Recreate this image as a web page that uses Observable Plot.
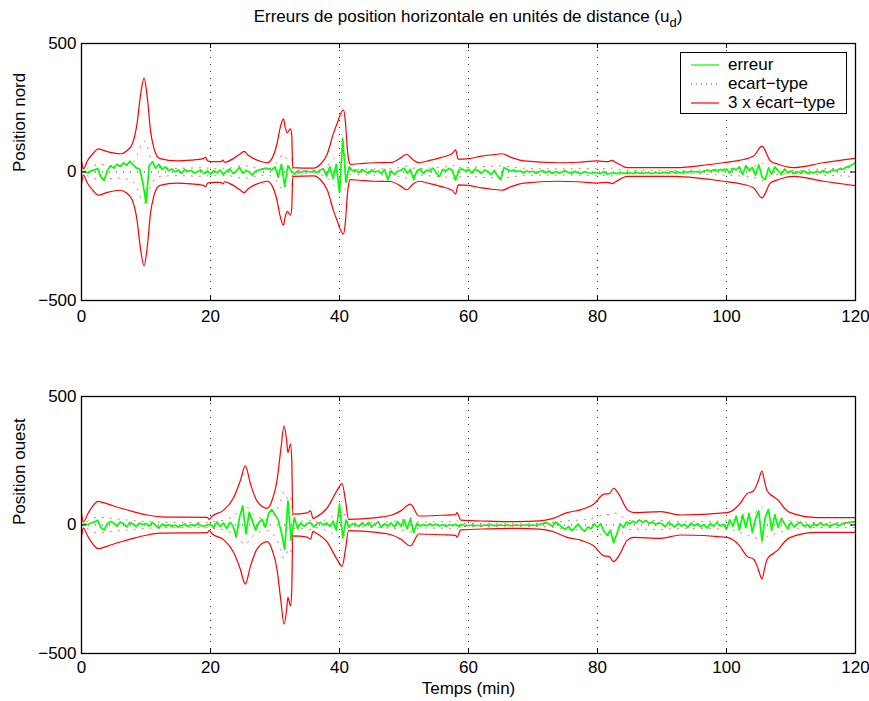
<!DOCTYPE html>
<html><head><meta charset="utf-8">
<script src="https://cdn.jsdelivr.net/npm/d3@7"></script>
<script src="https://cdn.jsdelivr.net/npm/@observablehq/plot@0.6"></script>
<style>
html,body{margin:0;padding:0;background:#fff;}
#wrap{position:relative;width:869px;height:701px;overflow:hidden;font-family:"Liberation Sans",Arial,Helvetica,sans-serif;color:#000;}
#title{position:absolute;z-index:3;left:81px;width:774px;top:7px;text-align:center;font-size:17px;line-height:20px;white-space:nowrap;}
#title sub{font-size:13px;vertical-align:-5px;line-height:0;}
.panel{position:absolute;left:0;z-index:1;}
#legend{position:absolute;z-index:2;left:680px;top:52px;width:165px;height:60px;border:1px solid #000;background:#fff;font-size:17px;}
#legend .row{position:absolute;left:0;height:19px;line-height:19px;width:165px;}
#legend svg{position:absolute;left:9px;top:0;}
#legend span{position:absolute;left:47px;top:0;white-space:nowrap;}
</style></head>
<body><div id="wrap">
<div id="title">Erreurs de position horizontale en unités de distance (u<sub>d</sub>)</div>
</div>
<script>
// ---- data ----
const xTicks = [0, 20, 40, 60, 80, 100, 120];
const yTicks = [-500, 0, 500];
const tStep = 0.5; // sample spacing (min) of the error series below
const panelLabels = ["Position nord", "Position ouest"];
const xLabel = "Temps (min)";
const legendLabels = ["erreur", "ecart\u2212type", "3 x \u00e9cart\u2212type"];

// erreur, position nord (t = 0, 0.5, ... 120)
const errNord = [
  0, 3, -4, 5, 8, 14, -20, -32, 6, 24, 15, 30, 22, 36, 26, 42, 28, 16, 12, -40,
  -120, 25, 40, 15, 30, 10, 20, 5, 12, 0, 8, -5, 10, 3, 6, -4, 2, 8, -6, 4,
  -8, 5, -3, 8, -10, 4, 12, -6, 3, 18, -5, 6, 0, -12, 4, 8, 10, 15, 12, 8,
  20, -20, 30, -55, 25, 5, -8, 3, -2, 4, 2, 0, 5, -3, 8, 12, -15, 20, -25, 30,
  -80, 130, -40, 20, 5, 8, -3, 10, 2, -5, 8, 0, 4, -6, 10, -30, 5, -10, 3, 6,
  15, -5, 10, -30, 5, 12, -6, 8, 4, 15, -4, -18, 10, 5, 14, 6, -32, 8, 12, 4,
  10, -4, 12, 5, -6, 8, 2, -10, 6, -15, -30, 18, 10, 4, 8, 2, 5, -3, 4, 0,
  3, -5, 2, 6, -3, 4, -6, 2, -4, 0, 5, -2, -5, 3, -4, -6, 2, -3, -5, -2,
  -4, -6, 2, -8, -5, -3, -7, -2, -5, -4, -3, -6, -1, -4, -5, -2, -3, -6, -2, -4,
  -3, -1, -4, 2, -2, 0, -3, 1, -1, 3, 0, 2, -2, 4, 6, 3, 8, 5, 10, 6,
  12, -5, 15, 8, 20, -10, 25, 5, 18, -12, 28, -20, -30, 15, -8, 20, 5, -10, 12, -4,
  4, -6, 2, -3, 5, -5, 0, -4, 3, -2, 6, -3, 2, 8, 5, 12, 10, 18, 22, 28,
  36
];
// erreur, position ouest
const errOuest = [
  0, 4, 2, 8, 12, 18, -10, -20, 5, 14, 8, -5, 12, 6, -8, 10, 4, -6, 8, 2,
  6, -4, 10, -2, -12, 4, -5, 2, -6, 0, -8, -3, 4, -6, 2, -4, 6, -2, -5, 0,
  4, -10, 12, -6, 8, -14, 10, -4, -48, 30, 74, -35, 50, 15, -20, 10, 22, -8, 45, 60,
  40, 20, -30, -95, 94, -60, 30, -15, 8, -5, 6, 10, -8, 4, 10, 0, 8, -6, 15, -20,
  81, -50, 20, -8, 6, 2, -5, 8, -3, 10, -6, 4, 12, -10, 5, -4, 8, -8, 14, -5,
  20, -15, 25, -30, 6, -4, 2, -3, 5, -2, 3, -4, 2, -5, 1, -2, 3, -6, 2, -3,
  -2, 0, -3, -1, -4, 0, -2, 1, -3, -1, 0, -2, 1, -3, -1, 0, -2, -1, 1, -2,
  0, -2, 2, 6, 10, 4, -5, 12, 3, -8, -18, -5, -22, -10, 4, -14, -25, -8, -15, 5,
  -10, 5, -25, -40, -20, -69, -35, 5, -10, 12, 4, 15, 8, 20, 10, 18, 6, 12, 3, 8,
  5, -6, 10, 2, -8, 6, -4, 3, -10, 8, -3, 5, -7, 2, -12, 6, -5, 10, -4, 3,
  -15, 20, -5, 35, -20, 40, -10, 45, -30, 25, 55, -62, 30, 61, -20, 40, -10, 25, 5, -15,
  10, -8, 4, 12, -5, 2, -10, 6, -3, 8, -2, 4, -6, 2, 5, -3, 6, 8, 10, 12,
  15
];
// 3 x ecart-type, position nord: [t (min), value]
const env3Nord = [
  [0,45],[0.3,12],[0.9,43],[1.9,75],[2.6,90],[4,79],[6,71],[7,82],[7.85,108],[8.6,186],[9.1,290],[9.7,365],
  [10.2,290],[10.7,160],[11.2,95],[11.7,62],[12.2,52],[14.8,43],[17,46],[18.9,52],[19.2,58],[19.6,42],
  [20.5,40],[21.6,40],[21.9,46],[22.2,38],[23.5,52],[24.5,68],[25.2,80],[25.8,66],[26.7,52],[28,40],[28.8,36],
  [29.6,56],[30.3,109],[30.8,172],[31.3,207],[31.6,172],[31.9,153],[32.4,168],[32.6,140],[32.75,17],
  [36,15],[37.05,30],[38.1,70],[39.1,153],[39.6,187],[40.6,242],[40.9,199],[41.2,95],[41.4,50],[41.7,30],
  [43,32],[45.3,36],[47.9,37],[49.5,55],[50.4,69],[51.3,50],[52.3,36],[54,45],[55.7,56],[57.5,72],[58,86],[58.4,50],
  [60,52],[62,62],[64,68],[65.2,71],[66.5,58],[68.6,43],[73.7,36],[77,38],[80,43],[81.5,40],[82.3,45],[82.8,38],
  [84.6,17],[92,17],[96,25],[99.5,36],[102,45],[104.2,62],[105.5,101],[106.8,43],[108,30],[110.4,17],[115,36],[120,53]
];
// 3 x ecart-type, position ouest
const env3Ouest = [
  [0,45],[0.3,12],[1,45],[2.6,92],[4,82],[6,66],[8,52],[10,40],[12.2,32],[19.5,30],[19.8,22],[20.3,35],
  [22,57],[23.6,107],[24.6,170],[25.4,230],[26.2,160],[27.2,94],[28.8,65],[29.6,100],[30.3,171],[30.9,293],
  [31.4,386],[31.8,330],[32,282],[32.4,315],[32.6,250],[32.75,42],[35,47],[35.5,55],[35.9,25],[36.3,30],
  [38.1,67],[39.6,133],[40.4,161],[40.9,100],[41.4,22],[45.8,29],[48,38],[49.5,55],[51,81],[52.3,35],
  [56,38],[58,40],[58.2,48],[58.8,19],[63,15],[67.5,13],[71,16],[73,25],[75.3,48],[77.5,60],[79.4,81],
  [81,120],[81.8,122],[82.5,143],[83.3,120],[84.6,60],[85.6,48],[89.8,52],[92.9,39],[100.1,48],[102,80],
  [103.2,122],[104.2,133],[104.9,170],[105.5,210],[105.9,170],[106.3,133],[107.3,110],[108.1,94],[109,65],
  [109.9,48],[114,29],[120,29]
];

// ---- drawing ----
const FONT = "'Liberation Sans', Arial, Helvetica, sans-serif";
const GREEN = "#00ff00", RED = "#ff0000";

function panel(err, env, ylabel, o) {
  const errData = err.map((v, i) => ({t: i * tStep, v}));
  const envData = env.map(([t, v]) => ({t, up: v, lo: -v, su: v / 3, sl: -v / 3}));
  const innerH = 257, innerW = 774;
  const marks = [
    Plot.ruleX(xTicks.slice(1, -1), {stroke: "#333", strokeDasharray: "1,6", strokeWidth: 1}),
    Plot.ruleY([0], {stroke: "#333", strokeDasharray: "1,6", strokeWidth: 1}),
    Plot.line(errData, {x: "t", y: "v", stroke: GREEN, strokeWidth: 1.7, clip: true}),
    Plot.line(envData, {x: "t", y: "su", stroke: "#ff5050", strokeDasharray: "1,7", strokeWidth: 1, curve: "monotone-x", clip: true}),
    Plot.line(envData, {x: "t", y: "sl", stroke: "#ff5050", strokeDasharray: "1,7", strokeWidth: 1, curve: "monotone-x", clip: true}),
    Plot.line(envData, {x: "t", y: "up", stroke: RED, strokeWidth: 1.2, curve: "monotone-x", clip: true}),
    Plot.line(envData, {x: "t", y: "lo", stroke: RED, strokeWidth: 1.2, curve: "monotone-x", clip: true}),
    Plot.tickX(xTicks, {x: d => d, insetTop: innerH - 5, stroke: "#000"}),
    Plot.tickX(xTicks, {x: d => d, insetBottom: innerH - 5, stroke: "#000"}),
    Plot.tickY(yTicks, {y: d => d, insetRight: innerW - 5, stroke: "#000"}),
    Plot.tickY(yTicks, {y: d => d, insetLeft: innerW - 5, stroke: "#000"}),
    Plot.frame({stroke: "#000", strokeWidth: 1.3}),
    Plot.axisX(xTicks, {tickSize: 0, tickPadding: o.tickPad, label: null, fontSize: 17}),
    Plot.axisY(yTicks, {tickSize: 0, tickPadding: 5, label: null, fontSize: 17}),
    Plot.text([ylabel], {frameAnchor: "left", rotate: -90, dx: -62, fontSize: 17})
  ];
  if (o.xlabel) marks.push(Plot.text([o.xlabel], {frameAnchor: "bottom", dy: 40, fontSize: 17}));
  return Plot.plot({
    width: 869, height: o.height,
    marginLeft: 81, marginRight: 14, marginTop: o.mt, marginBottom: o.mb,
    x: {domain: [0, 120]},
    y: {domain: [-500, 500]},
    style: {fontFamily: FONT, fontSize: "17px", background: "transparent", color: "#000", overflow: "visible"},
    marks
  });
}

const wrap = document.getElementById("wrap");
const p1 = panel(errNord, env3Nord, panelLabels[0], {height: 340, mt: 43, mb: 40, tickPad: 9});
p1.classList.add("panel"); p1.style.top = "0px";
wrap.appendChild(p1);
const p2 = panel(errOuest, env3Ouest, panelLabels[1], {height: 351, mt: 46, mb: 48, tickPad: 7, xlabel: xLabel});
p2.classList.add("panel"); p2.style.top = "350px";
wrap.appendChild(p2);

// legend
const leg = document.createElement("div");
leg.id = "legend";
const styles = [
  {stroke: GREEN, dash: null},
  {stroke: RED, dash: "1,4"},
  {stroke: RED, dash: null}
];
legendLabels.forEach((lab, i) => {
  const row = document.createElement("div");
  row.className = "row";
  row.style.top = (2 + i * 19) + "px";
  const s = styles[i];
  row.innerHTML = `<svg width="30" height="19"><line x1="1" x2="29" y1="10" y2="10" stroke="${s.stroke}" stroke-width="1.2" ${s.dash ? `stroke-dasharray="${s.dash}"` : ""}/></svg><span>${lab}</span>`;
  leg.appendChild(row);
});
wrap.appendChild(leg);
</script>
</body></html>
